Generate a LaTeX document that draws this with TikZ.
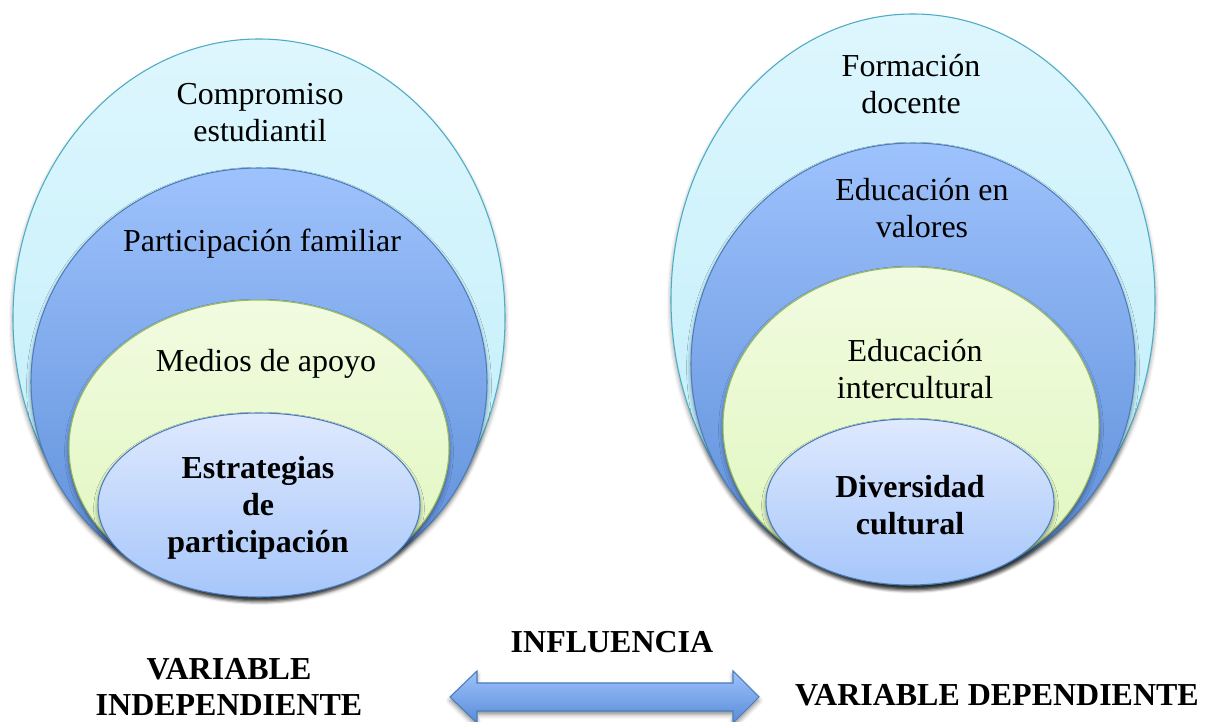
\documentclass[tikz,border=0pt]{standalone}
\usepackage{fontspec}
\setmainfont{Liberation Serif}
\usetikzlibrary{shadows.blur}

\definecolor{skytop}{HTML}{DEF6FD}
\definecolor{skybot}{HTML}{BDEEFB}
\definecolor{skyline}{HTML}{4BACC6}
\definecolor{bluetop}{HTML}{9EC2FC}
\definecolor{bluebot}{HTML}{5A8CD8}
\definecolor{blueline}{HTML}{4A7EBB}
\definecolor{greentop}{HTML}{F1FBE0}
\definecolor{greenbot}{HTML}{DFF7BD}
\definecolor{greenline}{HTML}{9BBB59}
\definecolor{paletop}{HTML}{DFE9FE}
\definecolor{palebot}{HTML}{A6C6FA}

\tikzset{
  ring/.style={line width=0.6pt,
    blur shadow={shadow xshift=0pt,shadow yshift=-2pt,shadow blur radius=2.5pt,shadow opacity=45}},
  txt/.style={font=\fontsize{18.2}{21}\selectfont, align=center, text=black},
  bold/.style={txt, font=\fontsize{18.2}{21}\selectfont\bfseries}
}

\begin{document}
\begin{tikzpicture}[x=0.02cm,y=-0.02cm]
\useasboundingbox (0,0) rectangle (1215,722);
% left set
\shade[ring,top color=skytop,bottom color=skybot,draw=skyline] (259,318) ellipse (246 and 279);
\shade[ring,top color=bluetop,bottom color=bluebot,draw=blueline] (259,382) ellipse (228 and 214);
\shade[ring,top color=greentop,bottom color=greenbot,draw=greenline] (259,448) ellipse (190 and 148);
\shade[ring,top color=paletop,bottom color=palebot,draw=blueline] (259,505) ellipse (161 and 92);
% right set
\shade[ring,top color=skytop,bottom color=skybot,draw=skyline] (913,300) ellipse (242 and 286);
\shade[ring,top color=bluetop,bottom color=bluebot,draw=blueline] (913,364) ellipse (222 and 221);
\shade[ring,top color=greentop,bottom color=greenbot,draw=greenline] (911,426) ellipse (188 and 159);
\shade[ring,top color=paletop,bottom color=palebot,draw=blueline] (910,502) ellipse (144 and 83);
% double arrow
\shade[ring,top color=bluetop,bottom color=bluebot,draw=blueline]
  (450,697) -- (477,671) -- (477,683) -- (733,683) -- (733,671) -- (759,697)
  -- (733,723) -- (733,711) -- (477,711) -- (477,723) -- cycle;

\node[txt] (compromiso) at (260,113) {Compromiso\\estudiantil};
\node[txt] (familiar) at (262,244) {Participación familiar};
\node[txt] (medios) at (266,364) {Medios de apoyo};
\node[bold] (estrategias) at (258,508) {Estrategias\\de\\participación};

\node[txt] (formacion) at (911,84) {Formación\\docente};
\node[txt] (valores) at (922,208) {Educación en\\valores};
\node[txt] (intercultural) at (915,369) {Educación\\intercultural};
\node[bold] (diversidad) at (910,505) {Diversidad\\cultural};

\node[bold] (influencia) at (612,642) {INFLUENCIA};
\node[bold] (independiente) at (229,687) {VARIABLE\\INDEPENDIENTE};
\node[bold] (dependiente) at (997,695) {VARIABLE DEPENDIENTE};
\end{tikzpicture}
\end{document}
